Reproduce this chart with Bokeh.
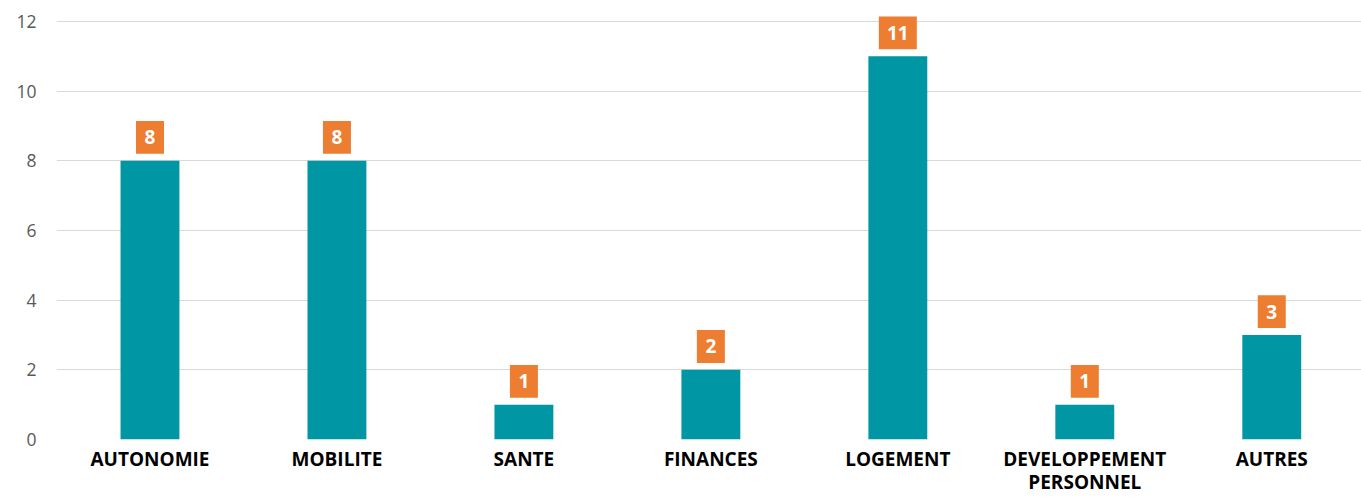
from bokeh.plotting import figure
from bokeh.models import Range1d, FixedTicker, ColumnDataSource
from bokeh.core.properties import value
from bokeh.embed import file_html
from bokeh.resources import INLINE

categories = ["AUTONOMIE", "MOBILITE", "SANTE", "FINANCES", "LOGEMENT",
              "DEVELOPPEMENT\nPERSONNEL", "AUTRES"]
counts = [8, 8, 1, 2, 11, 1, 3]
y_ticks = [0, 2, 4, 6, 8, 10, 12]

BAR = "#0096A4"
ORANGE = "#ED7D31"

xs = list(range(len(categories)))
src = ColumnDataSource(dict(
    x=xs,
    top=counts,
    label_y=[c + 0.67 for c in counts],
    label=[str(c) for c in counts],
    label_w=[18 + 10 * len(str(c)) for c in counts],
))

p = figure(width=1361, height=497, output_backend="svg", toolbar_location=None,
           x_range=Range1d(-0.5, 6.48), y_range=Range1d(0, 12.6),
           min_border_left=56, min_border_right=0, min_border_top=0,
           min_border_bottom=57)
p.outline_line_color = None

p.vbar(x="x", top="top", bottom=0, width=0.315, source=src,
       fill_color=BAR, line_color=None)

p.rect(x="x", y="label_y", width="label_w", height=0.943, width_units="screen",
       source=src, fill_color=ORANGE, line_color=None)
p.text(x="x", y="label_y", text="label", source=src, text_color="white",
       text_font=value("Open Sans"), text_font_style="bold",
       text_font_size="19px", text_align="center", text_baseline="middle")

p.xgrid.visible = False
p.ygrid.grid_line_color = "#D9D9D9"
p.ygrid.grid_line_width = 1
p.yaxis.ticker = FixedTicker(ticks=y_ticks)
p.xaxis.ticker = FixedTicker(ticks=xs)
p.xaxis.major_label_overrides = {i: c for i, c in enumerate(categories)}

for ax in (p.xaxis[0], p.yaxis[0]):
    ax.axis_line_color = None
    ax.major_tick_line_color = None
    ax.minor_tick_line_color = None
    ax.major_tick_out = 0
    ax.minor_tick_out = 0

p.yaxis.major_label_text_font = "Open Sans"
p.yaxis.major_label_text_font_size = "17.5px"
p.yaxis.major_label_text_color = "#595959"
p.yaxis.major_label_standoff = 20

p.xaxis.major_label_text_font = "Open Sans"
p.xaxis.major_label_text_font_style = "bold"
p.xaxis.major_label_text_font_size = "19px"
p.xaxis.major_label_text_color = "#000000"
p.xaxis.major_label_text_line_height = 0.9
p.xaxis.major_label_standoff = 6

open("out.html", "w").write(file_html(p, INLINE))
